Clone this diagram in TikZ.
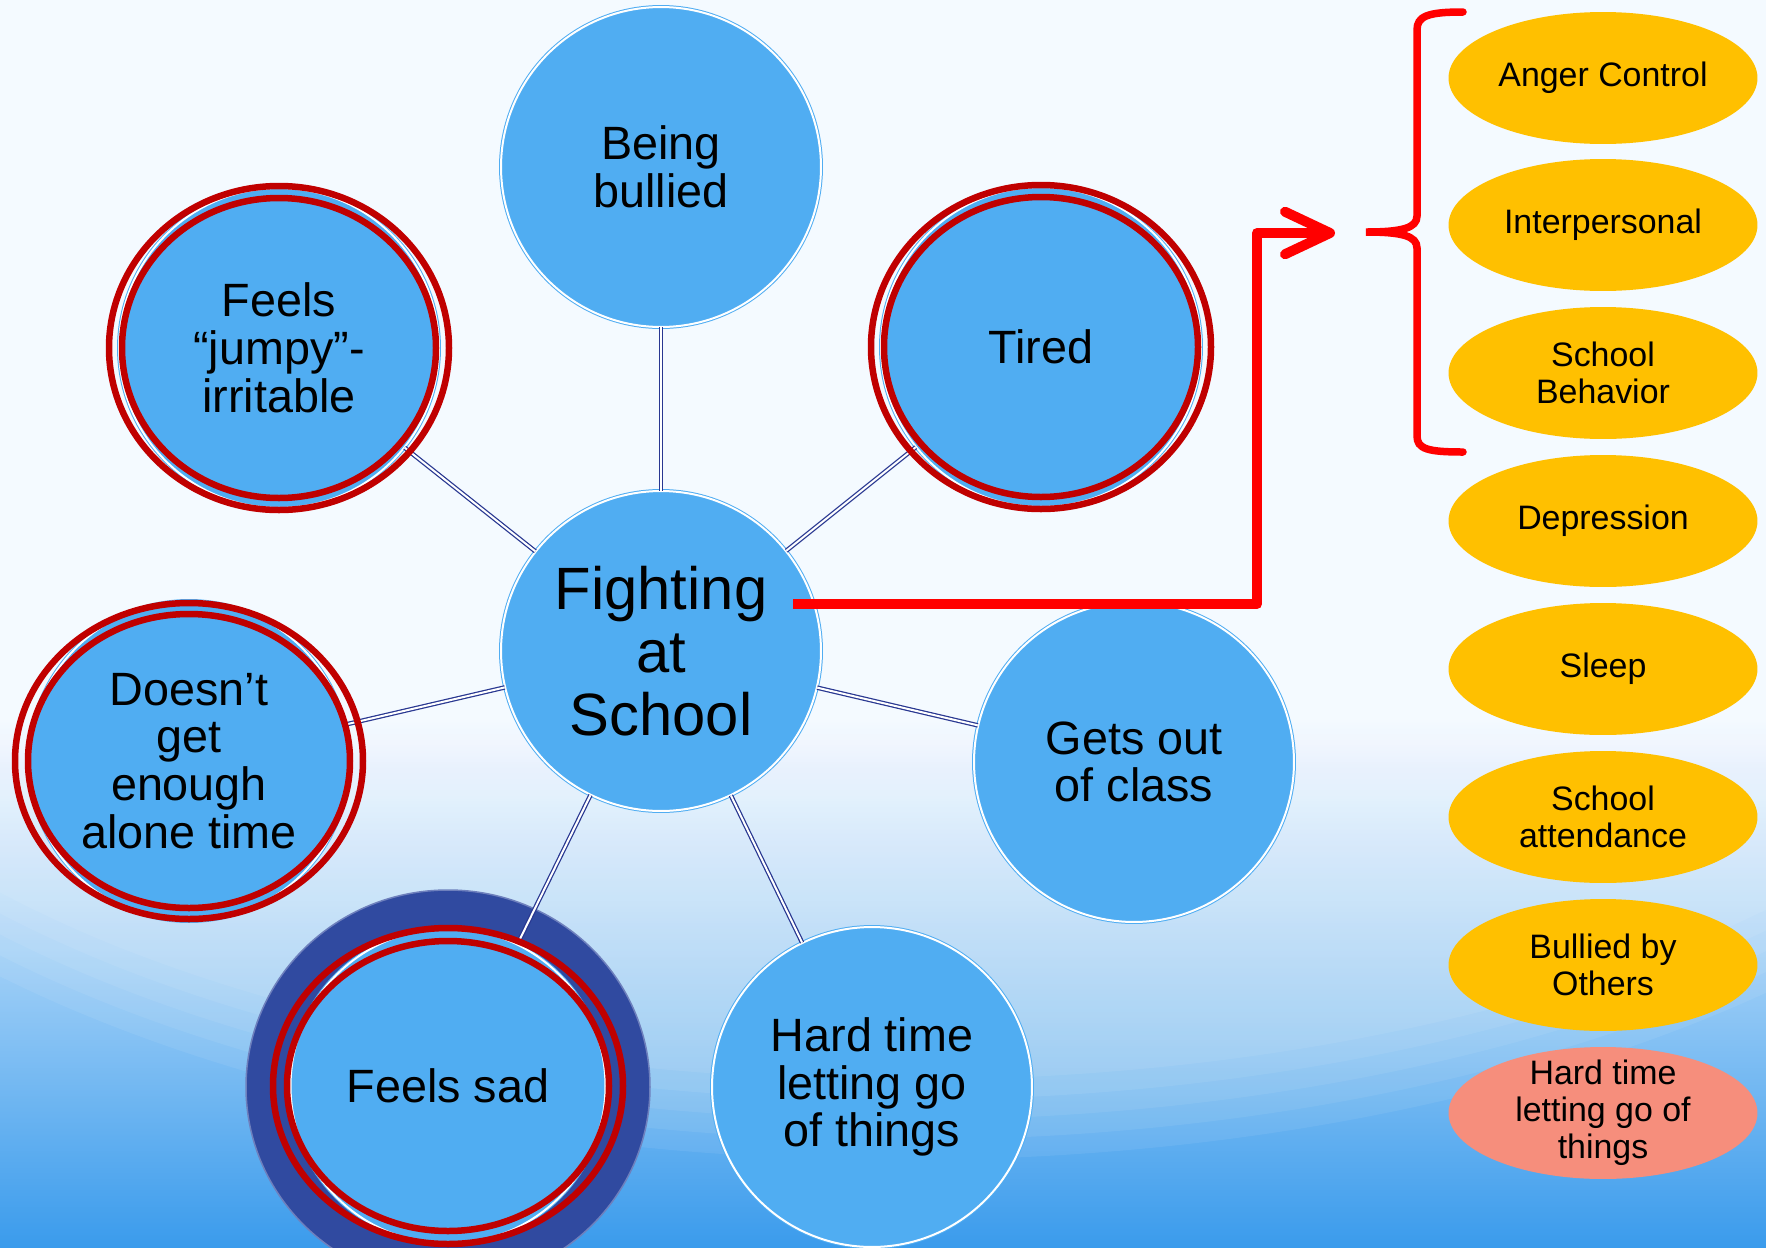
\documentclass[tikz,border=0pt]{standalone}
\usepackage{fontspec}
\setmainfont{Liberation Sans}
\usetikzlibrary{shapes.geometric,arrows.meta}

\definecolor{blasenblau}{RGB}{80,173,242}
\definecolor{linienblau}{RGB}{40,55,145}
\definecolor{dunkelblau}{RGB}{48,74,160}
\definecolor{ringrot}{RGB}{192,0,0}
\definecolor{pfeilrot}{RGB}{255,0,0}
\definecolor{gold}{RGB}{255,192,0}
\definecolor{lachs}{RGB}{246,142,124}
\definecolor{hgoben}{RGB}{244,250,255}
\definecolor{hgmitte}{RGB}{165,211,247}
\definecolor{hgunten}{RGB}{58,155,236}

\begin{document}
\begin{tikzpicture}[x=0.02cm, y=-0.02cm,
		kreis/.style={circle, fill=blasenblau, draw=blasenblau, double=white,
			double distance=0.04cm, line width=0.02cm, minimum size=6.4cm,
			inner sep=0pt, align=center, font={\fontsize{26.6}{27.2}\selectfont}},
		ring/.style={draw=ringrot, line width=0.13cm},
		linie/.style={draw=linienblau, double=white, double distance=0.04cm, line width=0.025cm},
		oval/.style={ellipse, fill=gold, minimum width=6.18cm, minimum height=2.64cm,
			inner sep=0pt, align=center, font={\fontsize{19.3}{21}\selectfont}},
		pfeil/.style={draw=pfeilrot, line width=0.2cm, line join=round,
			-{Straight Barb[length=0.9cm, width=0.85cm, round]}},
		klammer/.style={draw=pfeilrot, line width=0.15cm, line cap=round}]
		\useasboundingbox (0,0) rectangle (1766,1248);
		\clip (0,0) rectangle (1766,1248);
		% Hintergrund
		\fill[hgoben] (0,0) rectangle (1766,1248);
		\shade[top color=hgoben, middle color=hgmitte, bottom color=hgunten] (0,720) rectangle (1766,1248);
		\foreach \r in {0,20,40,60,80}
			\fill[white, opacity=0.07] (900,560) ellipse [x radius=1250-\r, y radius=600-\r];
		% Schatten um "Feels sad"
		\fill[dunkelblau, draw=dunkelblau!70!white, line width=0.03cm] (448,1087) ellipse [x radius=202, y radius=197];
		% Kreise
		\node[kreis] (bullied) at (661,167) {Being\\bullied};
		\node[kreis, font={\fontsize{34}{35.7}\selectfont}] (fight) at (661,651) {Fighting\\at\\School};
		\node[kreis] (jumpy) at (279,348) {Feels\\“jumpy”-\\irritable};
		\node[kreis] (tired) at (1041,347) {Tired};
		\node[kreis] (alone) at (189,761) {Doesn’t\\get\\enough\\alone time};
		\node[kreis] (gets) at (1134,762) {Gets out\\of class};
		\node[kreis] (hard) at (872,1087) {Hard time\\letting go\\of things};
		\node[kreis, minimum size=6.3cm] (sad) at (448,1086) {Feels sad};
		% Verbindungen
		\draw[linie] (fight) -- (bullied);
		\draw[linie] (fight) -- (jumpy);
		\draw[linie] (fight) -- (tired);
		\draw[linie] (fight) -- (alone);
		\draw[linie] (fight) -- (gets);
		\draw[linie] (fight) -- (hard);
		\draw[linie] (fight) -- (sad);
		% Ringe
		\draw[ring] (jumpy.center) ellipse [x radius=170, y radius=162];
		\draw[ring] (jumpy.center) ellipse [x radius=157, y radius=150];
		\draw[ring] (tired.center) ellipse [x radius=170, y radius=162];
		\draw[ring] (tired.center) ellipse [x radius=157, y radius=150];
		\draw[ring] (alone.center) ellipse [x radius=174, y radius=158];
		\draw[ring] (alone.center) ellipse [x radius=161, y radius=147];
		\draw[ring] (sad.center) ellipse [x radius=175, y radius=158];
		\draw[ring] (sad.center) ellipse [x radius=161, y radius=145];
		% Ellipsen
		\node[oval] (anger) at (1603,78) {Anger Control};
		\node[oval] (inter) at (1603,225) {Interpersonal};
		\node[oval] (behave) at (1603,373) {School\\Behavior};
		\node[oval] (depress) at (1603,521) {Depression};
		\node[oval] (sleep) at (1603,669) {Sleep};
		\node[oval] (attend) at (1603,817) {School\\attendance};
		\node[oval] (byothers) at (1603,965) {Bullied by\\Others};
		\node[oval, fill=lachs, inner ysep=-0.35cm] (letgo) at (1603,1113) {Hard time\\letting go of\\things};
		% Klammer und Pfeil
		\draw[klammer] (1463,12) .. controls (1428,12) and (1417,16) .. (1417,30) -- (1417,216)
			.. controls (1417,228) and (1402,232) .. (1366,232)
			.. controls (1402,232) and (1417,236) .. (1417,248) -- (1417,436)
			.. controls (1417,449) and (1428,452) .. (1463,452);
		\coordinate (knick) at (1257,233);
		\coordinate (spitze) at (1335,233);
		\draw[pfeil] ([xshift=-0.42cm]fight.17) -| (knick) -- (spitze);
	\end{tikzpicture}
\end{document}
